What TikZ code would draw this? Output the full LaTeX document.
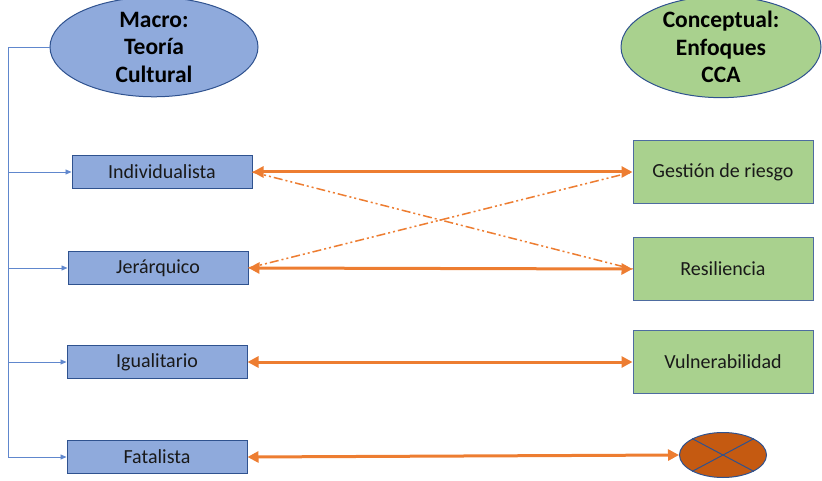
\documentclass[tikz,border=0pt]{standalone}
\usepackage{fontspec}
\setmainfont{Carlito}
\usetikzlibrary{shapes.geometric,arrows.meta}

\definecolor{azul}{HTML}{8FAADC}
\definecolor{azulborde}{HTML}{2F528F}
\definecolor{verde}{HTML}{A9D18E}
\definecolor{naranja}{HTML}{ED7D31}
\definecolor{marron}{HTML}{C55A11}
\definecolor{linea}{HTML}{4472C4}

\tikzset{
	caja/.style={draw=azulborde,fill=azul,line width=1pt,minimum width=180pt,minimum height=33pt,inner sep=0pt,text=black!90,font=\fontsize{20}{24}\selectfont},
	cajaverde/.style={caja,fill=verde,draw=azulborde!85,minimum height=63pt},
	elipse/.style={ellipse,draw=azulborde,line width=1pt,inner sep=0pt,minimum height=80pt,align=center,font=\fontsize{23.5}{27.5}\selectfont\bfseries},
	rama/.style={linea!85,line width=0.9pt,-{Triangle[length=6pt,width=5pt]}},
	doble/.style={naranja,line width=3pt,{Triangle[length=11pt,width=11pt]}-{Triangle[length=11pt,width=11pt]}},
	cruce/.style={naranja,line width=1.5pt,dash pattern=on 9pt off 3pt on 2pt off 3pt on 2pt off 3pt}
}

\begin{document}
\begin{tikzpicture}[x=1pt,y=-1pt]
		\useasboundingbox (0,0) rectangle (822,481);
		
		\node[elipse,fill=azul,minimum width=208pt] (macro) at (154,47) {Macro:\\Teoría\\Cultural};
		\node[elipse,fill=verde,minimum width=200pt] (concep) at (721,47) {Conceptual:\\Enfoques\\CCA};
		
		\node[caja] (ind) at (162,172) {Individualista};
		\node[caja] (jer) at (158,268) {Jerárquico};
		\node[caja] (igu) at (157,362) {Igualitario};
		\node[caja] (fat) at (157,457) {Fatalista};
		
		\node[cajaverde] (ges) at (723,172) {Gestión de riesgo};
		\node[cajaverde] (res) at (723,269) {Resiliencia};
		\node[cajaverde] (vul) at (723,362) {Vulnerabilidad};
		\node[ellipse,draw=azulborde,line width=1pt,fill=marron,minimum width=87pt,minimum height=45pt] (nulo) at (723,455) {};
		\draw[azulborde,line width=1pt] (nulo.28) -- (nulo.208);
		\draw[azulborde,line width=1pt] (nulo.152) -- (nulo.332);
		
		% linea de la izquierda
		\coordinate (arriba) at (8,47);
		\coordinate (abajo) at (8,457);
		\draw[linea!85,line width=0.9pt] (macro.west) -- (arriba) -- (abajo);
		\foreach \n in {ind,jer,igu,fat}
			\draw[rama] (arriba |- \n.west) -- (\n.west);
		
		\draw[cruce] (ind.east) -- (res.west);
		\draw[cruce] (jer.east) -- (ges.west);
		
		\draw[doble] (ind.east) -- (ges.west);
		\draw[doble] (jer.east) -- (res.west);
		\draw[doble] (igu.east) -- (vul.west);
		\draw[doble] (fat.east) -- (nulo.west);
	\end{tikzpicture}
\end{document}
